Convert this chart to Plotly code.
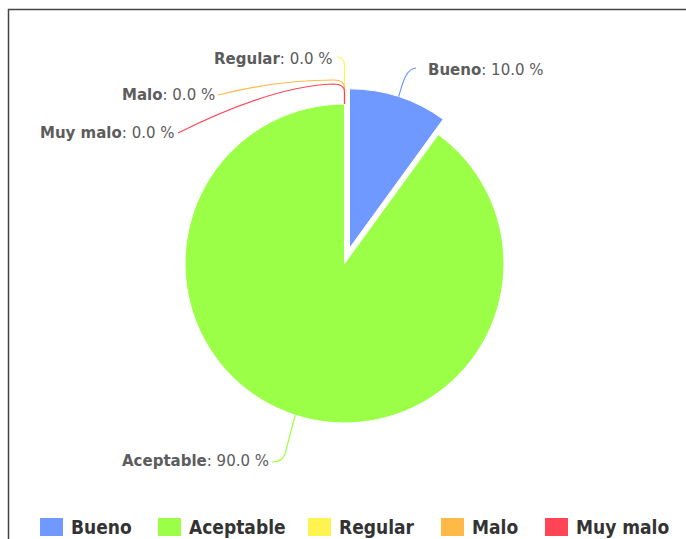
import plotly.graph_objects as go
import numpy as np

# Data
labels = ["Bueno", "Aceptable", "Regular", "Malo", "Muy malo"]
values = [10.0, 90.0, 0.0, 0.0, 0.0]
colors = ["#7099ff", "#9cff47", "#fff44f", "#ffb947", "#ff4455"]

W, H = 686, 539

# pie geometry in pixels
cx, cy, r = 344.5, 263.5, 159.5
pull = 0.1
box = 2 * r * (1 + pull)


def px(x):
    return x / W


def py(y):
    return 1 - y / H


def path(points):
    # points: list of (cmd, [(x, y), ...]) in pixel space
    out = []
    for cmd, pts in points:
        out.append(cmd + " ".join(f"{px(x):.5f},{py(y):.5f}" for x, y in pts))
    return " ".join(out)


fig = go.Figure()

fig.add_trace(
    go.Pie(
        labels=labels,
        values=values,
        sort=False,
        direction="clockwise",
        rotation=0,
        pull=[pull, 0, 0, 0, 0],
        marker=dict(colors=colors, line=dict(color="white", width=1)),
        textinfo="none",
        showlegend=False,
        domain=dict(
            x=[px(cx - box / 2), px(cx + box / 2)],
            y=[py(cy + box / 2), py(cy - box / 2)],
        ),
    )
)

# edge point of each slice at its mid angle (connector start)
total = sum(values)
cum = np.cumsum([0] + values[:-1])
starts = []
for i, v in enumerate(values):
    ang = np.radians((cum[i] + v / 2) / total * 360)
    rr = r * (1 + (pull if i == 0 else 0))
    starts.append((cx + rr * np.sin(ang), cy - rr * np.cos(ang)))

# label placement (pixels): x, y, anchor
label_pos = {
    "Bueno": (427, 70, "left"),
    "Aceptable": (270, 461, "right"),
    "Regular": (334, 59, "right"),
    "Malo": (216, 95, "right"),
    "Muy malo": (176, 133, "right"),
}

font_lbl = dict(family="DejaVu Sans", size=15, color="#5c5c5c")
for lab, v in zip(labels, values):
    x, y, anc = label_pos[lab]
    fig.add_annotation(
        x=px(x), y=py(y), xref="paper", yref="paper",
        text=f"<b>{lab}</b>: {v:.1f} %",
        showarrow=False, xanchor=anc, yanchor="middle",
        font=font_lbl, borderpad=0,
    )

# connectors
sx, sy = starts[0]
conn = {
    "Bueno": [("M", [(sx, sy)]), ("C", [(sx + 4, sy - 14), (sx + 7, 69), (416, 68)])],
    "Aceptable": [("M", [starts[1]]), ("L", [(285, 454)]), ("Q", [(282, 462), (272, 462)])],
    "Regular": [("M", [starts[2]]), ("L", [(344.5, 66)]), ("Q", [(344.5, 57), (337, 57)])],
    "Malo": [("M", [starts[3]]), ("L", [(344.5, 88)]), ("Q", [(344.5, 80), (334, 80)]),
             ("C", [(290, 80), (250, 87), (218, 95)])],
    "Muy malo": [("M", [starts[4]]), ("L", [(344.5, 92)]), ("Q", [(344.5, 84), (333, 84)]),
                 ("C", [(280, 86), (220, 112), (178, 133)])],
}
for lab, col in zip(labels, colors):
    fig.add_shape(
        type="path", xref="paper", yref="paper",
        path=path(conn[lab]),
        line=dict(color=col, width=1.2),
    )

# legend drawn by hand (bigger squares than plotly's)
legend_x = [40, 158, 308, 441, 545]
for lab, col, lx in zip(labels, colors, legend_x):
    fig.add_shape(
        type="rect", xref="paper", yref="paper",
        x0=px(lx), x1=px(lx + 23), y0=py(536), y1=py(518),
        fillcolor=col, line=dict(width=0),
    )
    fig.add_annotation(
        x=px(lx + 30), y=py(527), xref="paper", yref="paper",
        text=lab, showarrow=False, xanchor="left", yanchor="middle",
        font=dict(family="Liberation Sans Narrow, DejaVu Sans Condensed, Arial Narrow, sans-serif",
                  size=19, color="#333333", weight="bold"),
        borderpad=0,
    )

# container border (top / left visible)
fig.add_shape(
    type="rect", xref="paper", yref="paper",
    x0=px(8.5), x1=px(W + 20), y0=py(H + 20), y1=py(9.5),
    line=dict(color="#444444", width=1.5),
)

fig.update_layout(
    width=W,
    height=H,
    margin=dict(l=0, r=0, t=0, b=0, autoexpand=False),
    paper_bgcolor="white",
    plot_bgcolor="white",
    showlegend=False,
)

# drop the browser's default 8px body margin so the figure fills the window
fig.write_html(
    "out.html",
    config={"displayModeBar": False},
    post_script="document.body.style.margin='0px';",
)
